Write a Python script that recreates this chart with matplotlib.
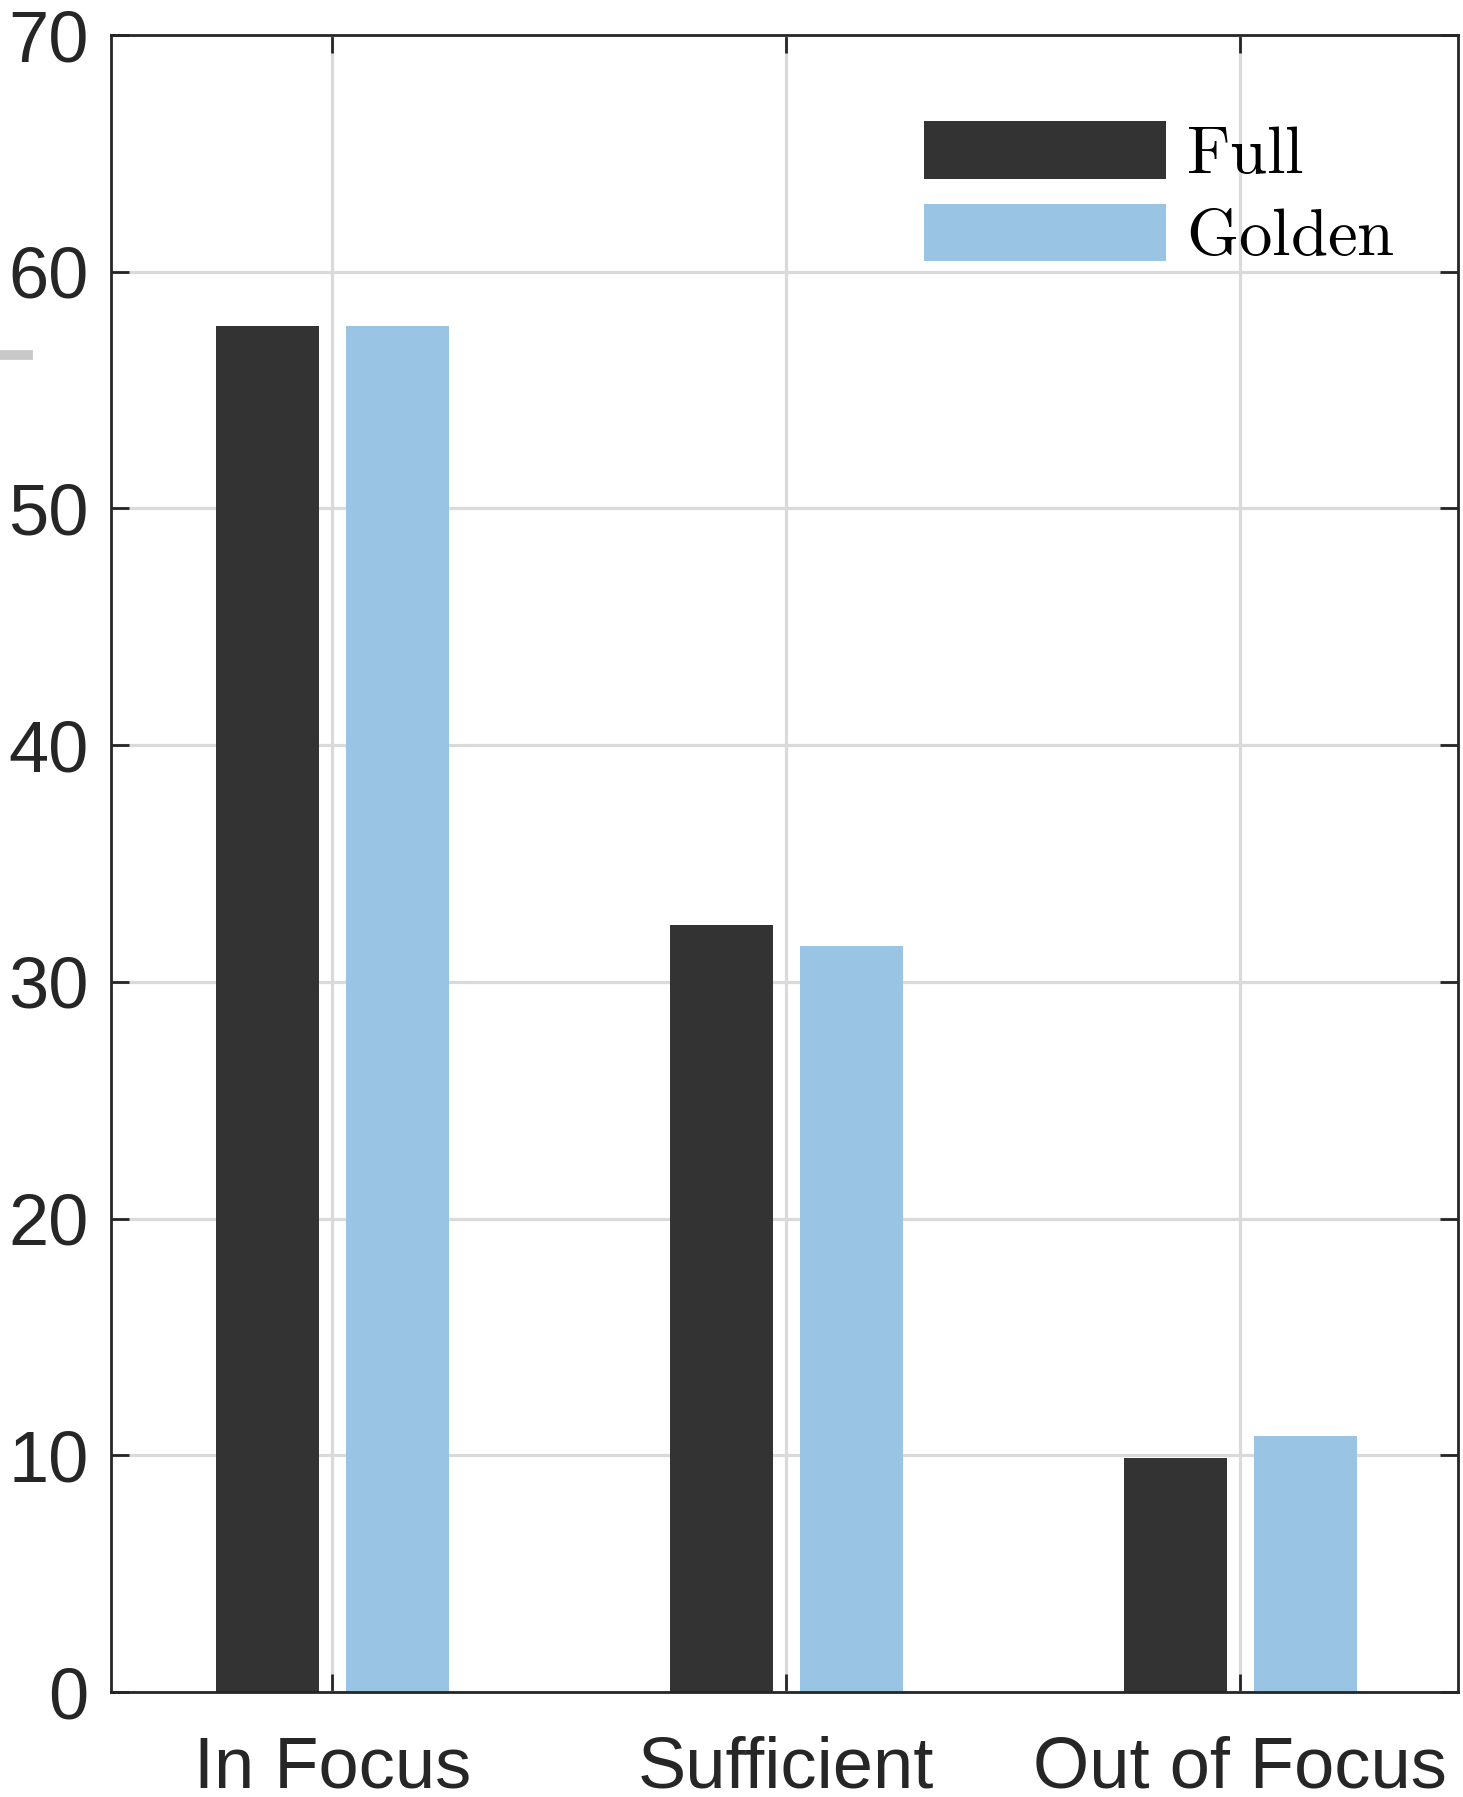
import numpy as np
import matplotlib
matplotlib.use("Agg")
import matplotlib.pyplot as plt
from matplotlib.lines import Line2D

plt.rcParams['font.family'] = ['Liberation Sans', 'DejaVu Sans']
plt.rcParams['mathtext.fontset'] = 'cm'

# percentages per focus class
categories = ["In Focus", "Sufficient", "Out of Focus"]
full_vals = [57.7, 32.4, 9.9]
golden_vals = [57.7, 31.5, 10.8]
y_ticks = [0, 10, 20, 30, 40, 50, 60, 70]

fig = plt.figure(figsize=(14.63, 17.97), dpi=100)
ax = fig.add_axes([0.0759, 0.0584, 0.9207, 0.9221])

x = np.arange(1, len(categories) + 1)
w = 0.227
ax.bar(x - 0.143, full_vals, w, color="#333333", label=r"$\mathrm{Full}$", zorder=2)
ax.bar(x + 0.143, golden_vals, w, color="#99c4e3", label=r"$\mathrm{Golden}$", zorder=2)

ax.set_xlim(0.513, 3.48)
ax.set_ylim(0, 70)
ax.set_xticks(x)
ax.set_xticklabels(categories)
ax.set_yticks(y_ticks)

ax.set_axisbelow(True)
ax.grid(True, color="#dadada", linewidth=2.3)
for s in ax.spines.values():
    s.set_linewidth(2.0)
    s.set_color("#262626")
ax.tick_params(direction="in", length=13, width=2.0, color="#262626",
               labelsize=52, labelcolor="#262626", top=True, right=True)
ax.tick_params(axis="y", pad=16)
ax.tick_params(axis="x", pad=31)

leg = ax.legend(loc="upper right", bbox_to_anchor=(0.973, 0.964), frameon=False,
                fontsize=48, handlelength=3.64, handleheight=0.95,
                labelspacing=0.25, handletextpad=0.3, borderaxespad=0)

# stray gray dash at the left edge
fig.add_artist(Line2D([0, 28 / 1463], [1 - 355 / 1797] * 2, color="#c8c8c8",
                      linewidth=7, transform=fig.transFigure))

fig.savefig("out.png", dpi=100)
